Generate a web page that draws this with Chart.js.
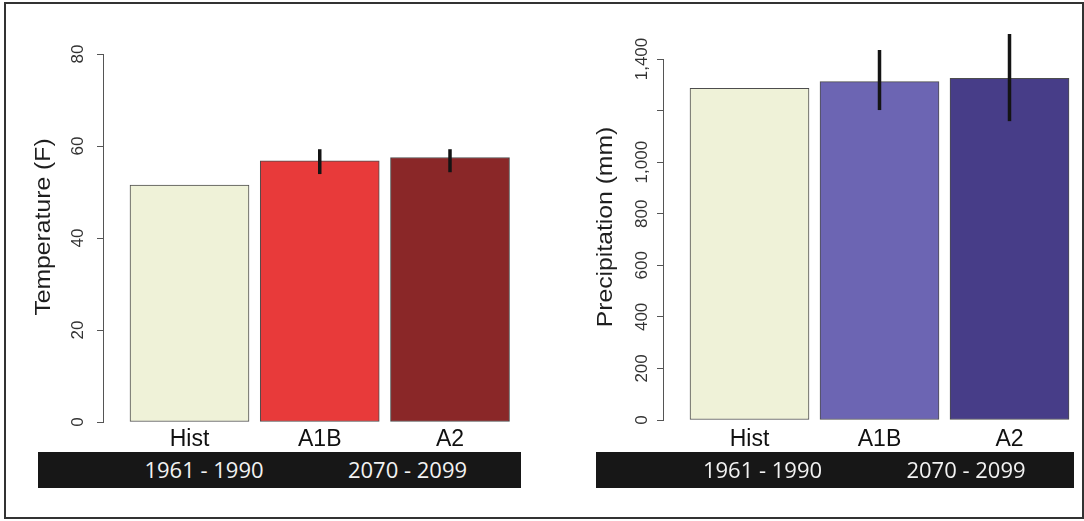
<!DOCTYPE html>
<html>
<head>
<meta charset="utf-8">
<script src="https://cdn.jsdelivr.net/npm/chart.js@4.4.1/dist/chart.umd.min.js"></script>
<style>
  html, body { margin: 0; padding: 0; background: #fff; }
  #wrap { position: relative; width: 1084px; height: 521px; overflow: hidden; background: #fff; }
  canvas { position: absolute; top: 0; }
  #tempChart { left: 0; }
  #precipChart { left: 542px; }
  .frame { position: absolute; left: 4px; top: 2px; width: 1080px; height: 517px; box-sizing: border-box; border: 2px solid #333; pointer-events: none; }
  .band { position: absolute; top: 452px; height: 36px; background: #171717; }
  .band span { position: absolute; top: 2px; line-height: 36px; transform: translateX(-50%); color: #f2f2f2;
               font: 22px "Open Sans", sans-serif; white-space: nowrap; }
</style>
</head>
<body>
<div id="wrap">
  <div class="frame"></div>
  <canvas id="tempChart" width="542" height="521"></canvas>
  <canvas id="precipChart" width="542" height="521"></canvas>
  <div class="band" id="bandLeft" style="left:38px;width:483px;"></div>
  <div class="band" id="bandRight" style="left:596px;width:478px;"></div>
</div>
<script>
// Scenario categories and the periods they cover
const categories = ['Hist', 'A1B', 'A2'];
const periods = ['1961 - 1990', '2070 - 2099'];

// Mean annual temperature (F) and model range
const tempValues = [51.5, 56.8, 57.5];
const tempErrLow = [null, 53.9, 54.3];
const tempErrHigh = [null, 59.3, 59.3];
const tempTicks = [0, 20, 40, 60, 80];
const tempTickLabels = ['0', '20', '40', '60', '80'];

// Mean annual precipitation (mm) and model range
const precipValues = [1286, 1312, 1325];
const precipErrLow = [null, 1202, 1159];
const precipErrHigh = [null, 1435, 1497];
const precipTicks = [0, 200, 400, 600, 800, 1000, 1200, 1400];
const precipTickLabels = ['0', '200', '400', '600', '800', '1,000', '', '1,400'];

const tempColors = ['#eff2d8', '#e83a3a', '#8a2728'];
const precipColors = ['#eff2d8', '#6c65b3', '#473d88'];

Chart.defaults.font.family = '"Liberation Sans", Arial, sans-serif';

// Vertical range line drawn over each bar
function makeErrorBars(low, high) {
  return {
    id: 'errorBars',
    afterDatasetsDraw(chart) {
      const { ctx, scales: { y } } = chart;
      const bars = chart.getDatasetMeta(0).data;
      ctx.save();
      ctx.strokeStyle = '#141414';
      ctx.lineWidth = 3.5;
      ctx.lineCap = 'butt';
      low.forEach((lo, i) => {
        const hi = high[i];
        if (lo == null || hi == null) return;
        const px = bars[i].x;
        ctx.beginPath();
        ctx.moveTo(px, y.getPixelForValue(lo));
        ctx.lineTo(px, y.getPixelForValue(hi));
        ctx.stroke();
      });
      ctx.restore();
    }
  };
}

// Rotated y-axis caption, stretched along its length
function makeCaption(text, offset, centerY) {
  return {
    id: 'axisCaption',
    afterDraw(chart) {
      const { ctx, chartArea } = chart;
      ctx.save();
      ctx.translate(chartArea.left - offset, centerY);
      ctx.rotate(-Math.PI / 2);
      ctx.scale(1.15, 1);
      ctx.font = '21.5px "Liberation Sans", Arial, sans-serif';
      ctx.fillStyle = '#1e1e1e';
      ctx.textAlign = 'center';
      ctx.textBaseline = 'middle';
      ctx.fillText(text, 0, 0);
      ctx.restore();
    }
  };
}

function makeChart(id, cfg) {
  return new Chart(document.getElementById(id), {
    type: 'bar',
    data: {
      datasets: [{
        data: cfg.values.map((v, i) => ({ x: i, y: v })),
        backgroundColor: cfg.colors,
        borderColor: '#4d4d4d',
        borderWidth: 1,
        borderSkipped: false,
        barThickness: 119
      }]
    },
    options: {
      responsive: false,
      animation: false,
      devicePixelRatio: 1,
      layout: { padding: { left: 0, right: cfg.padRight, top: cfg.padTop, bottom: cfg.padBottom } },
      plugins: { legend: { display: false }, tooltip: { enabled: false } },
      scales: {
        x: {
          type: 'linear',
          offset: false,
          min: cfg.xMin,
          max: cfg.xMax,
          grid: { display: false, drawTicks: false, offset: false },
          border: { display: false },
          afterBuildTicks: s => { s.ticks = categories.map((c, i) => ({ value: i })); },
          afterFit: s => { s.height = 40; },
          ticks: {
            autoSkip: false, minRotation: 0, maxRotation: 0,
            padding: cfg.xPad, color: '#111',
            font: { size: 23 },
            callback: v => categories[v] ?? ''
          }
        },
        y: {
          min: 0,
          max: cfg.ticks[cfg.ticks.length - 1],
          afterBuildTicks: s => { s.ticks = cfg.ticks.map(v => ({ value: v })); },
          afterFit: s => { s.width = cfg.yWidth; },
          grid: { display: true, drawOnChartArea: false, drawTicks: true, tickLength: 6, color: '#555', lineWidth: 1 },
          border: { display: true, color: '#555', width: 1 },
          ticks: {
            minRotation: 90, maxRotation: 90, crossAlign: 'center',
            padding: cfg.yPad, color: '#333',
            font: { size: 17 },
            callback: v => cfg.tickLabels[cfg.ticks.indexOf(v)]
          }
        }
      }
    },
    plugins: [makeErrorBars(cfg.low, cfg.high), makeCaption(cfg.caption, cfg.captionOffset, 227)]
  });
}

makeChart('tempChart', {
  values: tempValues, colors: tempColors, low: tempErrLow, high: tempErrHigh,
  ticks: tempTicks, tickLabels: tempTickLabels, caption: 'Temperature (F)',
  padTop: 54, padBottom: 59, padRight: 12, yWidth: 103,
  xMin: -0.6641, xMax: 2.6142, xPad: 3.5, yPad: 9.5, captionOffset: 59
});

makeChart('precipChart', {
  values: precipValues, colors: precipColors, low: precipErrLow, high: precipErrHigh,
  ticks: precipTicks, tickLabels: precipTickLabels, caption: 'Precipitation (mm)',
  padTop: 59, padBottom: 61, padRight: 8, yWidth: 121,
  xMin: -0.6654, xMax: 2.5115, xPad: 5.5, yPad: -6.25, captionOffset: 56.5
});

// Period captions under the category labels
[['bandLeft', 166], ['bandRight', 166.5]].forEach(([id, x0]) => {
  const band = document.getElementById(id);
  const centers = [x0, x0 + 203.5];
  periods.forEach((p, i) => {
    const s = document.createElement('span');
    s.textContent = p;
    s.style.left = centers[i] + 'px';
    band.appendChild(s);
  });
});
</script>
</body>
</html>
